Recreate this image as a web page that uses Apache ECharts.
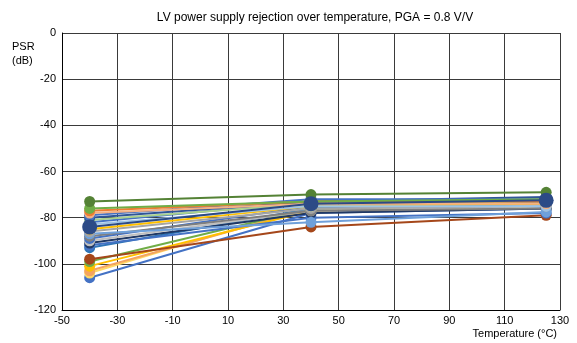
<!DOCTYPE html>
<html><head><meta charset="utf-8">
<script src="https://cdn.jsdelivr.net/npm/echarts@6/dist/echarts.min.js"></script>
<style>html,body{margin:0;padding:0;background:#fff}#c{width:577px;height:343px}</style>
</head><body><div id="c"></div>
<script>
const temps = [-40, 40, 125];
const xTicks = [-50, -30, -10, 10, 30, 50, 70, 90, 110, 130];
const yTicks = [-120, -100, -80, -60, -40, -20, 0];
// PSR (dB) per unit at -40, 40, 125 °C
const unit01 = [-73, -70, -69];
const unit02 = [-76, -73, -72];
const unit03 = [-77, -73, -73];
const unit04 = [-78, -74, -74];
const unit05 = [-79, -72, -72];
const unit06 = [-80, -73, -71];
const unit07 = [-81, -74, -73];
const unit08 = [-82, -73, -73];
const unit09 = [-83, -75, -75];
const unit10 = [-85, -75, -74];
const unit11 = [-86, -76, -75];
const unit12 = [-87, -82, -77.5];
const unit13 = [-88, -77, -76];
const unit14 = [-89, -75, -73];
const unit15 = [-90, -77, -75];
const unit16 = [-91, -78, -76];
const unit17 = [-92, -80, -78];
const unit18 = [-93, -76, -74];
const unit19 = [-98, -84, -79];
const unit20 = [-99, -76, -74];
const unit21 = [-101, -77, -75];
const unit22 = [-103, -76, -74];
const unit23 = [-104, -75, -74];
const unit24 = [-106, -78, -76];
const unit25 = [-84, -74, -72.5];

const units = [unit24, unit23, unit22, unit21, unit20, unit19, unit18, unit17, unit16, unit15, unit14, unit13, unit12, unit11, unit10, unit09, unit08, unit07, unit06, unit05, unit04, unit03, unit02, unit01, unit25];
const colors = ['#4472C4', '#FFD966', '#F4A460', '#FFC000', '#70AD47', '#A5471A', '#2E75B6', '#4472C4', '#203864', '#BFBFBF', '#4472C4', '#7F7F7F', '#6FA0DA', '#A5A5A5', '#FFC000', '#9DC3E6', '#4472C4', '#A9D18E', '#2F5597', '#4472C4', '#F4B183', '#ED7D31', '#70AD47', '#548235', '#2C4A86'];

const series = units.map((u, i) => ({
  type: 'line',
  data: temps.map((t, j) => [t, u[j]]),
  symbol: 'circle',
  symbolSize: i === units.length - 1 ? 15 : 11,
  lineStyle: { width: 2, color: colors[i] },
  itemStyle: { color: colors[i] },
  emphasis: { disabled: true },
  animation: false
}));

const chart = echarts.init(document.getElementById('c'));
chart.setOption({
  animation: false,
  title: {
    text: 'LV power supply rejection over temperature, PGA = 0.8 V/V',
    left: 310, top: 7, textAlign: 'center',
    textStyle: { fontFamily: 'Liberation Sans', fontSize: 12, fontWeight: 'normal', color: '#000' }
  },
  grid: { left: 62, right: 17, top: 33, bottom: 33 },
  xAxis: {
    type: 'value', min: xTicks[0], max: xTicks[xTicks.length - 1], interval: 20,
    axisLine: { show: true, onZero: false, lineStyle: { color: '#000', width: 1 } },
    axisTick: { show: false },
    axisLabel: { fontFamily: 'Liberation Sans', fontSize: 11, color: '#000', margin: 5 },
    splitLine: { show: true, lineStyle: { color: '#3a3a3a', width: 1 } }
  },
  yAxis: {
    type: 'value', min: yTicks[0], max: yTicks[yTicks.length - 1], interval: 20,
    axisLine: { show: true, onZero: false, lineStyle: { color: '#000', width: 1 } },
    axisTick: { show: false },
    axisLabel: { fontFamily: 'Liberation Sans', fontSize: 11, color: '#000', margin: 6 },
    splitLine: { show: true, lineStyle: { color: '#3a3a3a', width: 1 } }
  },
  graphic: [
    { type: 'text', left: 12, top: 40, style: { text: 'PSR\n(dB)', font: '11px "Liberation Sans"', fill: '#000', lineHeight: 14 } },
    { type: 'text', right: 20, top: 328, style: { text: 'Temperature (°C)', font: '11px "Liberation Sans"', fill: '#000' } }
  ],
  series: series
});
</script></body></html>
